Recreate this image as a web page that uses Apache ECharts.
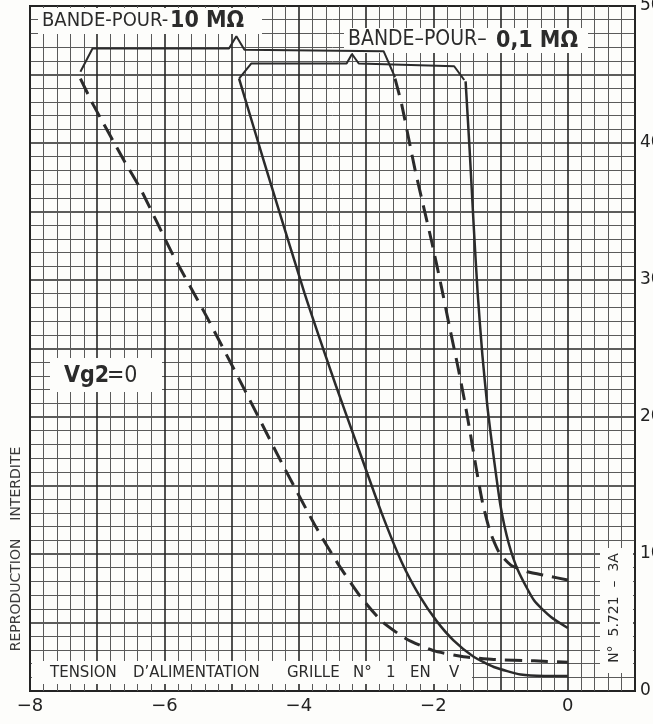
<!DOCTYPE html>
<html>
<head>
<meta charset="utf-8">
<script src="https://cdn.jsdelivr.net/npm/echarts@6/dist/echarts.min.js"></script>
<style>
html, body { margin: 0; padding: 0; background: #fff; }
#chart { width: 653px; height: 724px; }
</style>
</head>
<body>
<div id="chart"></div>
<script>
// grid voltage (V) on x, right-hand scale 0..50 on y
var xLabels = [-8, -6, -4, -2, 0];
var yLabels = [0, 10, 20, 30, 40, 50];

// courbes 10 MΩ (tirets)
var dash10Left = [[-7.25,44.7],[-7.06,42.8],[-6.61,38.8],[-6.35,36.6],[-5.87,31.8],[-5.38,27.4],[-4.83,22.2],
  [-4.26,16.7],[-3.75,12.0],[-3.42,9.3],[-3.1,7.0],[-2.77,5.1],[-2.4,3.8],[-2.0,2.95],[-1.55,2.5],[-1.1,2.3],[-0.5,2.2],[0,2.1]];
var dash10Right = [[-2.57,44.7],[-2.47,42.8],[-2.27,38.0],[-2.02,32.7],[-1.88,29.5],[-1.76,26.6],[-1.64,23.8],
  [-1.54,21.3],[-1.45,18.8],[-1.36,16.2],[-1.27,13.8],[-1.16,11.7],[-1.02,10.1],[-0.85,9.2],[-0.6,8.7],[-0.3,8.4],[0,8.1]];

// courbes 0,1 MΩ (traits pleins)
var solid01Left = [[-4.89,44.7],[-4.51,38.5],[-3.92,29.1],[-3.45,22.3],[-3.1,17.5],[-2.77,13.0],[-2.47,9.4],
  [-2.2,6.9],[-1.95,5.1],[-1.7,3.7],[-1.4,2.5],[-1.1,1.75],[-0.7,1.2],[-0.35,1.1],[0,1.1]];
var solid01Right = [[-1.52,44.5],[-1.46,39.5],[-1.40,34.0],[-1.34,29.0],[-1.27,24.5],[-1.19,20.5],[-1.10,17.0],
  [-1.0,13.5],[-0.88,10.8],[-0.74,8.8],[-0.5,6.6],[-0.25,5.4],[0,4.6]];

// accolades "BANDE POUR"
var brace10 = [[-7.25,45.2],[-7.07,46.9],[-5.04,46.9],[-4.93,47.8],[-4.81,46.8],[-2.74,46.7],[-2.57,44.8]];
var brace01 = [[-4.89,44.7],[-4.71,45.8],[-3.29,45.8],[-3.21,46.5],[-3.11,45.8],[-1.69,45.6],[-1.54,44.6]];

var ink = '#2b2b2b';
var condensed = "'DejaVu Sans Condensed', 'Liberation Sans Narrow', 'DejaVu Sans', sans-serif";
var plain = "'DejaVu Sans', sans-serif";

var myChart = echarts.init(document.getElementById('chart'));

function curve(data, dashed) {
    return {
        type: 'line',
        data: data,
        showSymbol: false,
        smooth: 0.2,
        silent: true,
        z: 3,
        lineStyle: { color: ink, width: dashed ? 3 : 2.5, type: dashed ? [17, 9] : 'solid' }
    };
}
function brace(data) {
    return {
        type: 'line', data: data, showSymbol: false, silent: true, z: 3,
        lineStyle: { color: ink, width: 2 }
    };
}

var option = {
    backgroundColor: '#fdfdfb',
    animation: false,
    grid: {
        left: 30, right: 18, top: 6, bottom: 33,
        containLabel: false,
        outerBoundsMode: 'none',
        show: true, borderColor: '#1e1e1e', borderWidth: 2
    },
    xAxis: {
        type: 'value',
        min: -8, max: 1, interval: 1,
        axisLine: { show: false },
        axisTick: { show: false },
        minorTick: { show: false, splitNumber: 5 },
        splitLine: { show: true, lineStyle: { color: '#262626', width: 1.6 } },
        minorSplitLine: { show: true, lineStyle: { color: '#5a5a5a', width: 1 } },
        axisLabel: {
            margin: 6, fontSize: 18, color: '#222', fontFamily: plain,
            formatter: function (v) {
                if (xLabels.indexOf(v) < 0) return '';
                return v === 0 ? '0' : '\u2212' + Math.abs(v);
            }
        }
    },
    yAxis: {
        type: 'value',
        position: 'right',
        min: 0, max: 50, interval: 5,
        axisLine: { show: false },
        axisTick: { show: false },
        minorTick: { show: false, splitNumber: 5 },
        splitLine: { show: true, lineStyle: { color: '#262626', width: 1.6 } },
        minorSplitLine: { show: true, lineStyle: { color: '#5a5a5a', width: 1 } },
        axisLabel: {
            margin: 5, fontSize: 17, color: '#222', fontFamily: plain,
            formatter: function (v) { return yLabels.indexOf(v) < 0 ? '' : String(v); }
        }
    },
    graphic: [
        // cartouches blancs
        { type: 'rect', z: 1, shape: { x: 38, y: 8, width: 224, height: 26 }, style: { fill: '#fdfdfb' } },
        { type: 'rect', z: 1, shape: { x: 344, y: 28, width: 244, height: 25 }, style: { fill: '#fdfdfb' } },
        { type: 'rect', z: 1, shape: { x: 50, y: 358, width: 112, height: 34 }, style: { fill: '#fdfdfb' } },
        { type: 'rect', z: 1, shape: { x: 32, y: 661, width: 440, height: 23 }, style: { fill: '#fdfdfb' } },
        { type: 'rect', z: 1, shape: { x: 600, y: 548, width: 33, height: 125 }, style: { fill: '#fdfdfb' } },

        { type: 'text', z: 5, x: 42, y: 21, style: { text: 'BANDE-POUR-', fontSize: 20, fontFamily: condensed, fill: ink, verticalAlign: 'middle' } },
        { type: 'text', z: 5, x: 170, y: 21, style: { text: '10 MΩ', fontSize: 23, fontWeight: 'bold', fontFamily: condensed, fill: ink, verticalAlign: 'middle' } },
        { type: 'text', z: 5, x: 348, y: 40, style: { text: 'BANDE–POUR–', fontSize: 21, fontFamily: condensed, fill: ink, verticalAlign: 'middle' } },
        { type: 'text', z: 5, x: 496, y: 41, style: { text: '0,1 MΩ', fontSize: 23, fontWeight: 'bold', fontFamily: condensed, fill: ink, verticalAlign: 'middle' } },

        { type: 'text', z: 5, x: 64, y: 376, style: { text: 'Vg2', fontSize: 23, fontWeight: 'bold', fontFamily: condensed, fill: ink, verticalAlign: 'middle' } },
        { type: 'text', z: 5, x: 107, y: 376, style: { text: '=0', fontSize: 23, fontFamily: condensed, fill: ink, verticalAlign: 'middle' } },

        { type: 'text', z: 5, x: 50, y: 673, style: { text: 'TENSION', fontSize: 15, fontFamily: plain, fill: ink, verticalAlign: 'middle' } },
        { type: 'text', z: 5, x: 133, y: 673, style: { text: 'D\u2019ALIMENTATION', fontSize: 15, fontFamily: plain, fill: ink, verticalAlign: 'middle' } },
        { type: 'text', z: 5, x: 287, y: 673, style: { text: 'GRILLE', fontSize: 15, fontFamily: plain, fill: ink, verticalAlign: 'middle' } },
        { type: 'text', z: 5, x: 353, y: 673, style: { text: 'N°', fontSize: 15, fontFamily: plain, fill: ink, verticalAlign: 'middle' } },
        { type: 'text', z: 5, x: 386, y: 673, style: { text: '1', fontSize: 15, fontFamily: plain, fill: ink, verticalAlign: 'middle' } },
        { type: 'text', z: 5, x: 410, y: 673, style: { text: 'EN', fontSize: 15, fontFamily: plain, fill: ink, verticalAlign: 'middle' } },
        { type: 'text', z: 5, x: 449, y: 673, style: { text: 'V', fontSize: 15, fontFamily: plain, fill: ink, verticalAlign: 'middle' } },

        { type: 'text', z: 5, x: 614, y: 608, rotation: Math.PI / 2,
          style: { text: 'N°  5.721  –  3A', fontSize: 14, fontFamily: plain, fill: ink, align: 'center', verticalAlign: 'middle' } },
        { type: 'text', z: 5, x: 16, y: 549, rotation: Math.PI / 2,
          style: { text: 'REPRODUCTION    INTERDITE', fontSize: 14, fontFamily: plain, fill: '#3a3a3a', align: 'center', verticalAlign: 'middle' } }
    ],
    series: [
        curve(dash10Left, true),
        curve(dash10Right, true),
        curve(solid01Left, false),
        curve(solid01Right, false),
        brace(brace10),
        brace(brace01)
    ]
};

myChart.setOption(option);
</script>
</body>
</html>
